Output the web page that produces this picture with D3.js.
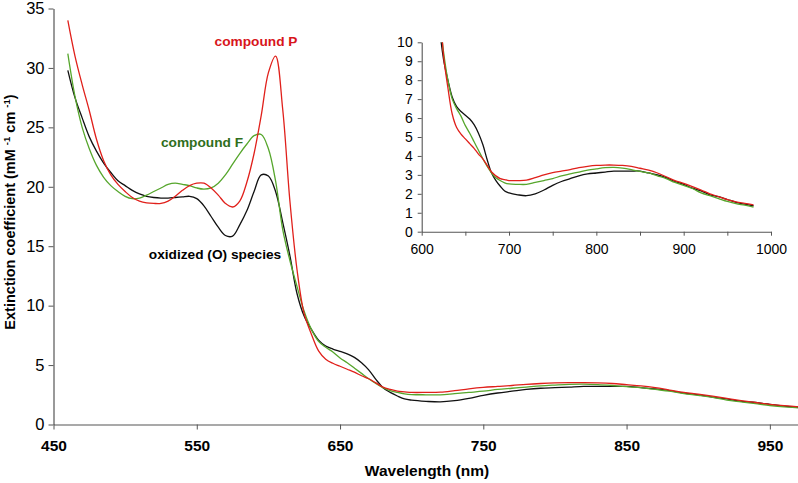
<!DOCTYPE html>
<html>
<head>
<meta charset="utf-8">
<script src="https://cdn.jsdelivr.net/npm/d3@7"></script>
<style>
  html, body { margin: 0; padding: 0; background: #fff; }
  svg { display: block; font-family: "Liberation Sans", Arial, sans-serif; }
</style>
</head>
<body>
<svg id="chart" width="798" height="483"></svg>
<script>
// ---- Data ----
const wavelengths = [460,465,470,475,480,485,490,495,500,505,510,515,520,525,530,535,540,545,550,555,560,565,570,575,580,585,590,595,600,605,610,615,620,625,630,635,640,645,650,655,660,665,670,675,680,685,690,695,700,710,720,730,740,750,760,770,780,790,800,810,820,830,840,850,860,870,880,890,900,910,920,930,940,950,960,970,980];

const oxidized = [29.8,27.5,25.8,24.2,23.0,22.0,21.2,20.5,20.1,19.7,19.4,19.2,19.1,19.05,19.05,19.1,19.15,19.2,19.0,18.4,17.5,16.6,15.9,15.85,16.8,18.0,19.6,21.0,20.9,19.6,17.0,14.2,11.0,9.1,8.0,7.1,6.6,6.35,6.15,5.95,5.65,5.2,4.6,3.8,3.1,2.7,2.4,2.15,2.05,1.95,1.9,2.0,2.2,2.45,2.65,2.8,2.95,3.05,3.1,3.15,3.2,3.2,3.2,3.2,3.1,3.0,2.85,2.65,2.5,2.3,2.15,1.95,1.85,1.7,1.55,1.45,1.37];

const compoundP = [34.0,31.0,28.6,26.4,24.0,22.2,21.0,20.2,19.6,19.1,18.8,18.65,18.6,18.6,18.8,19.2,19.7,20.1,20.3,20.3,19.9,19.3,18.6,18.3,18.8,20.4,22.8,26.0,29.6,31.0,26.5,18.8,13.0,9.3,7.6,6.2,5.5,5.15,4.9,4.65,4.4,4.1,3.85,3.5,3.15,2.95,2.8,2.75,2.7,2.7,2.72,2.85,3.0,3.12,3.2,3.28,3.38,3.45,3.5,3.52,3.52,3.5,3.45,3.35,3.25,3.1,2.9,2.7,2.55,2.38,2.2,2.0,1.85,1.7,1.58,1.5,1.42];

const compoundF = [31.2,27.6,25.0,23.2,21.8,20.8,20.1,19.6,19.2,19.0,19.05,19.3,19.6,19.9,20.2,20.3,20.2,20.1,19.9,19.8,19.9,20.3,21.0,21.9,22.8,23.6,24.3,24.4,23.2,20.5,16.4,13.8,11.6,9.5,8.0,7.0,6.5,6.1,5.6,5.2,4.75,4.3,3.85,3.45,3.1,2.85,2.7,2.58,2.52,2.5,2.5,2.6,2.7,2.8,2.95,3.05,3.15,3.25,3.32,3.38,3.4,3.36,3.28,3.18,3.1,2.95,2.8,2.6,2.45,2.28,2.05,1.9,1.75,1.6,1.48,1.4,1.3];

const mainXTicks = [450,550,650,750,850,950];
const mainYTicks = [0,5,10,15,20,25,30,35];
const insetXTicks = [600,650,700,750,800,850,900,950,1000];
const insetXLabels = [600,700,800,900,1000];
const insetYTicks = [0,1,2,3,4,5,6,7,8,9,10];

const seriesNames = ["oxidized (O) species","compound F","compound P"];
const seriesColors = ["#111111","#56a62c","#e0201b"];
const labelColors = ["#000000","#2f6e1c","#d8151b"];

// ---- Drawing ----
const svg = d3.select("#chart");
const series = [oxidized, compoundF, compoundP].map((vals, i) => ({
  name: seriesNames[i], color: seriesColors[i],
  pts: wavelengths.map((w, j) => [w, vals[j]])
}));

const axisColor = "#555";

// Main chart
const x = d3.scaleLinear().domain([450, 970]).range([53.5, 798.5]);
const y = d3.scaleLinear().domain([0, 35]).range([424.5, 8.5]);

svg.append("clipPath").attr("id","clipMain")
  .append("rect").attr("x", 53.5).attr("y", 0).attr("width", 745).attr("height", 425);

const line = d3.line().x(d => x(d[0])).y(d => y(d[1])).curve(d3.curveCatmullRom.alpha(0.5));
const gMain = svg.append("g").attr("clip-path","url(#clipMain)");
series.forEach(s => {
  gMain.append("path").attr("d", line(s.pts)).attr("fill","none")
    .attr("stroke", s.color).attr("stroke-width", 1.3);
});

const xAxis = svg.append("g").attr("transform", `translate(0,${y(0)})`)
  .call(d3.axisBottom(x).tickValues(mainXTicks).tickSize(5).tickSizeOuter(0).tickPadding(10));
xAxis.select(".domain").attr("stroke", axisColor).attr("stroke-width", 1.2);
xAxis.selectAll(".tick line").attr("stroke", axisColor);
xAxis.selectAll(".tick text").attr("fill","#000")
  .style("font-size","15.5px").style("font-weight","bold").attr("font-family","Liberation Sans, Arial, sans-serif");

const yAxis = svg.append("g").attr("transform", `translate(${x(450)},0)`)
  .call(d3.axisLeft(y).tickValues(mainYTicks).tickSize(5).tickSizeOuter(0).tickPadding(4));
yAxis.select(".domain").attr("stroke", axisColor).attr("stroke-width", 1.2);
yAxis.selectAll(".tick line").attr("stroke", axisColor);
yAxis.selectAll(".tick text").attr("fill","#000")
  .style("font-size","16.5px").attr("font-family","Liberation Sans, Arial, sans-serif");

// Axis titles
svg.append("text").attr("x", 427).attr("y", 476).attr("text-anchor","middle")
  .style("font-size","15.5px").style("font-weight","bold").text("Wavelength (nm)");

const yt = svg.append("text").attr("transform","translate(15,212) rotate(-90)")
  .attr("text-anchor","middle").style("font-size","14.5px").style("font-weight","bold");
yt.append("tspan").text("Extinction coefficient (mM ");
yt.append("tspan").attr("dy", -5).style("font-size","9.5px").text("-1");
yt.append("tspan").attr("dy", 5).text(" cm ");
yt.append("tspan").attr("dy", -5).style("font-size","9.5px").text("-1");
yt.append("tspan").attr("dy", 5).text(")");

// Series labels
const labelPos = [[215, 259], [202, 147], [256, 46]];
series.forEach((s, i) => {
  svg.append("text").attr("x", labelPos[i][0]).attr("y", labelPos[i][1])
    .attr("text-anchor","middle").attr("fill", labelColors[i])
    .style("font-size","13.7px").style("font-weight","bold").text(s.name);
});

// Inset
const xi = d3.scaleLinear().domain([600, 1000]).range([421.7, 771]);
const yi = d3.scaleLinear().domain([0, 10]).range([231.7, 42.3]);

svg.append("clipPath").attr("id","clipInset")
  .append("rect").attr("x", xi(600)).attr("y", yi(10)).attr("width", xi(1000)-xi(600)).attr("height", yi(0)-yi(10));

const lineI = d3.line().x(d => xi(d[0])).y(d => yi(d[1])).curve(d3.curveCatmullRom.alpha(0.5));
const gInset = svg.append("g").attr("clip-path","url(#clipInset)");
series.forEach(s => {
  gInset.append("path").attr("d", lineI(s.pts.filter(p => p[0] >= 610))).attr("fill","none")
    .attr("stroke", s.color).attr("stroke-width", 1.3);
});

const xiAxis = svg.append("g").attr("transform", `translate(0,${yi(0)})`)
  .call(d3.axisBottom(xi).tickValues(insetXTicks).tickSize(4).tickSizeOuter(0).tickPadding(8)
    .tickFormat(d => insetXLabels.includes(d) ? d : ""));
xiAxis.select(".domain").attr("stroke", axisColor).attr("stroke-width", 1.1);
xiAxis.selectAll(".tick line").attr("stroke", axisColor);
xiAxis.selectAll(".tick text").attr("fill","#000").style("font-size","14px")
  .attr("font-family","Liberation Sans, Arial, sans-serif");

const yiAxis = svg.append("g").attr("transform", `translate(${xi(600)},0)`)
  .call(d3.axisLeft(yi).tickValues(insetYTicks).tickSize(4).tickSizeOuter(0).tickPadding(5));
yiAxis.select(".domain").attr("stroke", axisColor).attr("stroke-width", 1.1);
yiAxis.selectAll(".tick line").attr("stroke", axisColor);
yiAxis.selectAll(".tick text").attr("fill","#000").style("font-size","14px")
  .attr("font-family","Liberation Sans, Arial, sans-serif");
</script>
</body>
</html>
